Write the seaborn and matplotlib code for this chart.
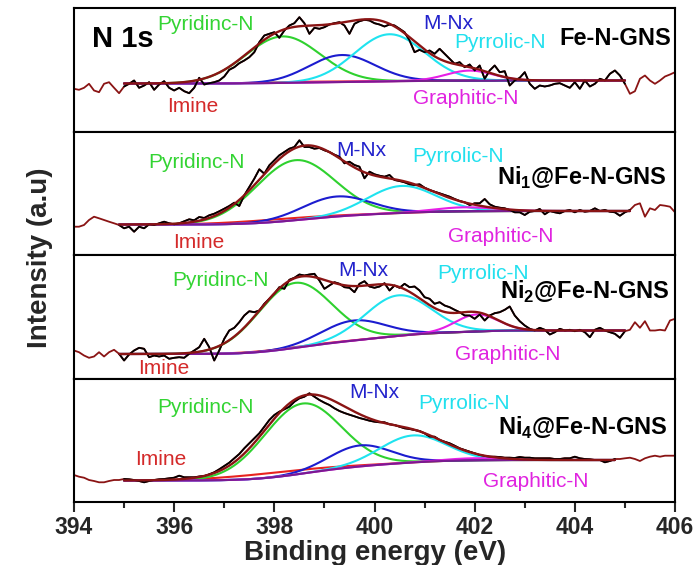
import numpy as np
import pandas as pd
import matplotlib
matplotlib.use("Agg")
import matplotlib.pyplot as plt
import seaborn as sns

# ---------------------------------------------------------------------------
# N 1s spectra (arbitrary intensity units), sampled every 0.1 eV from 394 eV
# ---------------------------------------------------------------------------
energy_start, energy_step = 394.0, 0.1

raw_fe = [42.7, 41.7, 43.7, 47.7, 41.0, 39.3, 47.7, 49.3, 43.7, 38.3,
          45.0, 47.7, 51.0, 43.7, 46.0, 49.3, 41.7, 47.0, 50.3, 43.7,
          41.0, 43.7, 40.3, 38.3, 43.7, 53.7, 47.0, 48.3, 49.3, 51.0,
          55.0, 61.7, 64.3, 68.3, 71.0, 74.3, 79.3, 89.3, 96.0, 97.7,
          99.3, 93.7, 101.0, 106.0, 108.3, 114.3, 108.3, 97.7, 103.7, 102.7,
          104.3, 107.0, 108.3, 109.3, 106.0, 97.7, 107.7, 110.3, 111.7, 111.0,
          108.3, 107.0, 105.0, 107.0, 106.0, 102.7, 99.3, 91.0, 79.3, 81.7,
          79.3, 81.0, 77.7, 82.7, 77.7, 72.7, 67.7, 69.3, 64.3, 67.0,
          61.0, 66.0, 52.7, 61.0, 66.0, 59.3, 60.3, 46.0, 51.0, 53.7,
          59.3, 47.7, 42.7, 46.0, 45.0, 46.0, 47.7, 48.3, 46.0, 43.7,
          49.3, 42.7, 51.0, 45.0, 47.7, 52.7, 51.0, 57.7, 61.0, 56.0,
          47.7, 37.7, 40.3, 52.7, 56.0, 51.0, 47.7, 51.0, 55.0, 57.0,
          59.3]

raw_ni1 = [28.3, 28.3, 30.0, 35.0, 38.3, 36.7, 35.0, 33.3, 31.7, 30.0,
           26.7, 28.3, 23.3, 28.3, 26.7, 30.7, 30.0, 31.7, 33.3, 31.7,
           30.7, 31.7, 33.7, 35.7, 34.7, 38.0, 37.0, 39.7, 41.3, 43.7,
           46.3, 49.0, 52.3, 49.0, 59.7, 68.0, 76.3, 85.7, 81.3, 89.7,
           94.7, 99.7, 103.0, 106.3, 108.0, 114.7, 108.0, 108.0, 106.3, 107.0,
           104.7, 103.0, 100.3, 98.3, 91.7, 93.3, 90.0, 88.3, 76.7, 83.3,
           80.7, 79.3, 78.3, 80.0, 75.0, 74.0, 72.7, 70.7, 70.0, 70.7,
           67.3, 65.0, 63.3, 61.7, 60.0, 58.3, 56.0, 54.0, 52.7, 50.0,
           51.7, 51.7, 56.0, 50.7, 48.3, 47.3, 46.7, 45.0, 42.7, 42.7,
           40.0, 43.3, 44.0, 46.0, 40.7, 44.0, 42.7, 41.7, 44.0, 45.0,
           42.7, 45.0, 43.3, 44.0, 46.7, 44.0, 45.0, 43.3, 42.7, 39.3,
           42.7, 45.0, 50.0, 51.7, 38.3, 46.7, 45.0, 50.0, 49.3, 48.3,
           42.7]

raw_ni2 = [28.0, 26.3, 23.0, 20.7, 22.0, 26.3, 22.0, 26.3, 28.7, 24.7,
           18.0, 24.0, 28.0, 30.7, 29.7, 21.3, 23.0, 22.0, 23.0, 19.7,
           20.7, 21.3, 20.7, 24.7, 28.0, 31.3, 39.7, 31.3, 18.0, 28.0,
           39.7, 48.0, 50.7, 56.3, 63.0, 67.3, 66.3, 68.0, 74.7, 79.7,
           84.7, 91.3, 89.7, 98.7, 100.7, 104.0, 103.0, 104.0, 104.7, 98.0,
           89.7, 93.0, 96.3, 94.7, 91.3, 90.7, 86.3, 94.7, 97.3, 92.0,
           90.7, 92.0, 95.3, 88.0, 93.0, 90.7, 94.7, 91.3, 92.0, 88.0,
           81.3, 79.7, 74.7, 76.3, 73.0, 71.3, 68.7, 66.3, 63.0, 63.0,
           59.7, 64.0, 58.0, 63.0, 65.3, 66.3, 68.7, 72.0, 63.0, 57.3,
           53.0, 49.7, 48.0, 50.7, 48.7, 44.0, 46.3, 49.7, 48.0, 48.7,
           47.3, 48.7, 46.3, 41.3, 48.7, 50.7, 48.0, 46.3, 44.7, 40.7,
           47.3, 48.7, 56.3, 50.7, 57.3, 48.0, 48.0, 48.7, 48.0, 58.0,
           59.7]

raw_ni4 = [27.0, 25.3, 24.3, 22.0, 21.0, 19.7, 19.7, 21.0, 22.0, 22.0,
           23.0, 22.7, 22.0, 21.0, 19.7, 21.0, 22.0, 22.7, 23.0, 23.7,
           24.3, 26.3, 24.7, 24.7, 24.7, 25.5, 26.0, 27.7, 29.7, 32.7,
           36.0, 39.3, 43.7, 48.0, 53.7, 58.7, 63.7, 68.7, 75.3, 82.0,
           87.0, 90.3, 92.7, 95.3, 100.3, 103.7, 105.3, 108.7, 105.3, 102.0,
           99.3, 97.0, 93.7, 91.0, 89.0, 87.3, 85.7, 84.0, 82.7, 81.3,
           80.3, 79.7, 79.7, 77.7, 77.0, 75.3, 73.7, 73.0, 72.0, 71.0,
           68.7, 65.3, 65.3, 62.0, 60.3, 58.7, 56.3, 53.7, 52.0, 50.3,
           48.7, 47.0, 46.0, 45.3, 45.3, 45.0, 44.3, 44.3, 44.0, 45.0,
           44.3, 44.3, 43.7, 43.7, 43.7, 43.7, 43.0, 43.0, 43.7, 43.7,
           45.3, 43.7, 43.0, 42.7, 42.0, 42.0, 39.7, 41.0, 43.0, 43.0,
           43.7, 44.3, 43.0, 41.0, 43.7, 45.3, 46.3, 45.3, 46.3, 46.3,
           46.3]

# Gaussian fit components: Imine, Pyridinic-N, M-Nx, Pyrrolic-N, Graphitic-N
centers_fe = [398.6, 398.17, 399.35, 400.30, 401.90]
heights_fe = [0.8, 46.5, 27.0, 47.0, 10.0]
fwhm_fe = [2.0, 1.75, 1.55, 1.65, 1.10]

centers_ni1 = [398.0, 398.42, 399.24, 400.54, 401.80]
heights_ni1 = [2.5, 60.0, 20.0, 27.0, 4.0]
fwhm_ni1 = [2.2, 1.85, 1.60, 1.60, 1.40]

centers_ni2 = [398.2, 398.41, 399.58, 400.47, 402.04]
heights_ni2 = [0.8, 65.0, 20.0, 40.5, 17.0]
fwhm_ni2 = [2.0, 1.72, 1.50, 1.55, 1.00]

centers_ni4 = [398.0, 398.56, 399.71, 400.77, 402.00]
heights_ni4 = [4.5, 70.0, 21.0, 27.0, 2.0]
fwhm_ni4 = [2.4, 1.80, 1.45, 1.55, 1.30]

# Shirley background end levels (low-BE side, high-BE side) and fit windows
background_fe, window_fe = (48.0, 51.0), (395.0, 405.0)
background_ni1, window_ni1 = (30.5, 44.0), (394.9, 405.1)
background_ni2, window_ni2 = (24.5, 48.0), (394.9, 405.0)
background_ni4, window_ni4 = (21.5, 42.0), (395.0, 404.8)

samples = ["Fe-N-GNS", r"Ni$_{\mathbf{1}}$@Fe-N-GNS",
           r"Ni$_{\mathbf{2}}$@Fe-N-GNS", r"Ni$_{\mathbf{4}}$@Fe-N-GNS"]
components = ["Imine", "Pyridinc-N", "M-Nx", "Pyrrolic-N", "Graphitic-N"]

x_ticks = [394, 396, 398, 400, 402, 404, 406]

comp_colors = {"Imine": "#e8231f", "Pyridinc-N": "#2fd12f", "M-Nx": "#1c1ccf",
               "Pyrrolic-N": "#1fe3ef", "Graphitic-N": "#e61fe6"}
label_colors = {"Imine": "#d42a2a", "Pyridinc-N": "#33d433", "M-Nx": "#2222cc",
                "Pyrrolic-N": "#22e0ee", "Graphitic-N": "#e024e0"}
envelope_color = "#8a1414"
baseline_color = "#7a1a90"

# label anchors (left, baseline) per panel: (energy, intensity)
label_pos = [
    {"Imine": (395.86, 19.3), "Pyridinc-N": (395.66, 101.0), "M-Nx": (400.97, 102.7),
     "Pyrrolic-N": (401.60, 83.3), "Graphitic-N": (400.77, 27.0)},
    {"Imine": (395.98, 6.7), "Pyridinc-N": (395.48, 86.7), "M-Nx": (399.23, 99.3),
     "Pyrrolic-N": (400.75, 93.3), "Graphitic-N": (401.47, 13.3)},
    {"Imine": (395.28, 4.7), "Pyridinc-N": (395.96, 93.0), "M-Nx": (399.27, 103.0),
     "Pyrrolic-N": (401.25, 99.7), "Graphitic-N": (401.60, 18.0)},
    {"Imine": (395.22, 37.0), "Pyridinc-N": (395.66, 89.3), "M-Nx": (399.49, 104.0),
     "Pyrrolic-N": (400.87, 92.7), "Graphitic-N": (402.16, 15.3)},
]
sample_pos = [(403.70, 86.7), (402.44, 70.0), (402.50, 79.7), (402.46, 67.0)]

panels = [
    (raw_fe, centers_fe, heights_fe, fwhm_fe, background_fe, window_fe),
    (raw_ni1, centers_ni1, heights_ni1, fwhm_ni1, background_ni1, window_ni1),
    (raw_ni2, centers_ni2, heights_ni2, fwhm_ni2, background_ni2, window_ni2),
    (raw_ni4, centers_ni4, heights_ni4, fwhm_ni4, background_ni4, window_ni4),
]

sns.set_theme(style="ticks")
plt.rcParams["font.family"] = ["Liberation Sans", "DejaVu Sans"]
plt.rcParams["font.weight"] = "normal"
plt.rcParams["mathtext.fontset"] = "custom"
plt.rcParams["mathtext.rm"] = "Liberation Sans"
plt.rcParams["mathtext.bf"] = "Liberation Sans:bold"
plt.rcParams["axes.linewidth"] = 1.5

fig, axes = plt.subplots(4, 1, figsize=(6.98, 5.65), dpi=100, sharex=True)
fig.subplots_adjust(left=74 / 698, right=675 / 698, top=1 - 8 / 565,
                    bottom=1 - 502 / 565, hspace=0)


def gaussian(x, c, h, w):
    s = w / 2.3548
    return h * np.exp(-(x - c) ** 2 / (2 * s ** 2))


def line(ax, x, y, color, lw, z):
    df = pd.DataFrame({"x": x, "y": y})
    sns.lineplot(data=df, x="x", y="y", ax=ax, color=color, linewidth=lw,
                 estimator=None, sort=False, legend=False, zorder=z)


for k, (ax, (raw, cen, hei, fw, bg, win)) in enumerate(zip(axes, panels)):
    raw = np.asarray(raw, dtype=float)
    e_raw = energy_start + energy_step * np.arange(len(raw))
    xg = np.linspace(win[0], win[1], 600)

    comps = [gaussian(xg, c, h, w) for c, h, w in zip(cen, hei, fw)]
    total = np.sum(comps, axis=0)
    # Shirley-type background
    cum = np.concatenate([[0], np.cumsum((total[1:] + total[:-1]) / 2 * np.diff(xg))])
    base = bg[0] + (bg[1] - bg[0]) * cum / cum[-1]
    envelope = base + total

    # measured data: outside the fit window in wine, inside in black
    line(ax, e_raw, raw, envelope_color, 1.3, 2)
    inside = (e_raw >= win[0] - 1e-6) & (e_raw <= win[1] + 1e-6)
    line(ax, e_raw[inside], raw[inside], "black", 1.3, 4)

    for name, comp in zip(components, comps):
        line(ax, xg, base + comp, comp_colors[name], 1.5, 3)
    line(ax, xg, base, baseline_color, 1.5, 3)
    line(ax, xg, envelope, envelope_color, 1.7, 5)

    for name in components:
        px, py = label_pos[k][name]
        ax.text(px, py, name, color=label_colors[name], fontsize=15,
                ha="left", va="baseline", zorder=6)
    sx, sy = sample_pos[k]
    ax.text(sx, sy, samples[k], color="black", fontsize=17, fontweight="bold",
            ha="left", va="baseline", zorder=6)

    ax.set_xlim(394, 406)
    ax.set_ylim(0, 123.5)
    ax.set_yticks([])
    ax.set_ylabel("")
    ax.set_xlabel("")
    for sp in ax.spines.values():
        sp.set_visible(True)
        sp.set_linewidth(1.5)
        sp.set_color("black")
    ax.tick_params(axis="x", which="both", bottom=False, labelbottom=False)

axes[0].text(394.36, 84.3, "N 1s", fontsize=21, fontweight="bold",
             ha="left", va="baseline", color="black", zorder=6)

ax = axes[-1]
ax.set_xticks(x_ticks)
ax.set_xticks(np.arange(395, 406, 2), minor=True)
ax.tick_params(axis="x", which="major", bottom=True, labelbottom=True,
               direction="out", length=7, width=1.5, pad=3, labelsize=16.5)
ax.tick_params(axis="x", which="minor", bottom=True, direction="out",
               length=4.5, width=1.5)
for t in ax.get_xticklabels():
    t.set_fontweight("bold")

fig.text(375.5 / 698, 1 - 553 / 565, "Binding energy (eV)", fontsize=20,
         fontweight="bold", ha="center", va="center")
fig.text(40 / 698, 1 - 258 / 565, "Intensity (a.u)", fontsize=20,
         fontweight="bold", ha="center", va="center", rotation=90)

fig.savefig("out.png", dpi=100)
